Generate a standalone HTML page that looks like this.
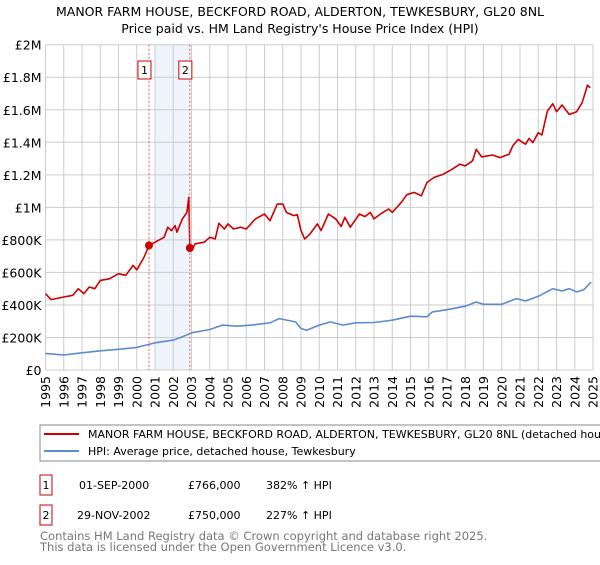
<!DOCTYPE html>
<html><head><meta charset="utf-8"><style>
body{margin:0;background:#fff;font-family:"Liberation Sans","DejaVu Sans",sans-serif;}
svg text{font-family:"DejaVu Sans","Liberation Sans",sans-serif;}
</style></head><body>
<svg id="c" width="600" height="560" viewBox="0 0 600 560" xmlns="http://www.w3.org/2000/svg">
<text x="300" y="16" text-anchor="middle" font-size="12.5" fill="#000">MANOR FARM HOUSE, BECKFORD ROAD, ALDERTON, TEWKESBURY, GL20 8NL</text>
<text x="300" y="33" text-anchor="middle" font-size="12.5" fill="#000">Price paid vs. HM Land Registry's House Price Index (HPI)</text>
<g id="grid"></g><g id="marks"></g><g id="axes"></g>
<rect x="40" y="425" width="570" height="36" fill="#fff" stroke="#888"/>
<line x1="44" y1="434" x2="79" y2="434" stroke="#cc0000" stroke-width="2"/>
<text x="88" y="438" font-size="11">MANOR FARM HOUSE, BECKFORD ROAD, ALDERTON, TEWKESBURY, GL20 8NL (detached house)</text>
<line x1="44" y1="451" x2="79" y2="451" stroke="#5b8bd0" stroke-width="2"/>
<text x="88" y="455" font-size="11">HPI: Average price, detached house, Tewkesbury</text>
<rect x="40" y="475" width="12" height="20" fill="#fff" stroke="#cc0000"/>
<text x="46" y="489" font-size="11" text-anchor="middle">1</text>
<text x="79" y="489" font-size="11">01-SEP-2000</text>
<text x="188" y="489" font-size="11">£766,000</text>
<text x="266" y="489" font-size="11">382% ↑ HPI</text>
<rect x="40" y="505" width="12" height="20" fill="#fff" stroke="#cc0000"/>
<text x="46" y="519" font-size="11" text-anchor="middle">2</text>
<text x="77" y="519" font-size="11">29-NOV-2002</text>
<text x="188" y="519" font-size="11">£750,000</text>
<text x="266" y="519" font-size="11">227% ↑ HPI</text>
<text x="40" y="540" font-size="11.5" fill="#777">Contains HM Land Registry data © Crown copyright and database right 2025.</text>
<text x="40" y="551" font-size="11.5" fill="#777">This data is licensed under the Open Government Licence v3.0.</text>
</svg>
<script>
const yTicks=[0,200,400,600,800,1000,1200,1400,1600,1800,2000];
const yTickLabels=["£0","£200K","£400K","£600K","£800K","£1M","£1.2M","£1.4M","£1.6M","£1.8M","£2M"];
const xYears=[1995,1996,1997,1998,1999,2000,2001,2002,2003,2004,2005,2006,2007,2008,2009,2010,2011,2012,2013,2014,2015,2016,2017,2018,2019,2020,2021,2022,2023,2024,2025];
const redT=[1995,1995.3,1996,1996.5,1996.8,1997.1,1997.4,1997.7,1998,1998.5,1999,1999.4,1999.8,2000,2000.4,2000.67,2001,2001.5,2001.7,2001.9,2002.1,2002.2,2002.5,2002.75,2002.85,2002.91,2003.0,2003.2,2003.7,2004,2004.3,2004.5,2004.8,2005,2005.3,2005.7,2006,2006.5,2007,2007.3,2007.7,2008,2008.2,2008.6,2008.8,2009,2009.2,2009.5,2009.9,2010.1,2010.5,2010.9,2011.2,2011.4,2011.7,2012.2,2012.5,2012.8,2013,2013.4,2013.8,2014,2014.5,2014.8,2015.2,2015.6,2015.9,2016.3,2016.8,2017.3,2017.7,2018,2018.4,2018.6,2018.9,2019.5,2019.9,2020.4,2020.6,2020.9,2021.3,2021.5,2021.7,2022,2022.2,2022.5,2022.8,2023,2023.3,2023.7,2024.1,2024.4,2024.7,2024.85];
const redV=[469,433,449,459,500,469,510,500,551,561,592,582,643,616,694,766,786,816,878,857,888,847,929,969,1061,750,735,776,786,816,806,902,867,898,867,878,867,929,959,918,1020,1020,969,949,955,857,806,837,898,857,959,929,882,939,878,959,943,969,929,963,990,969,1031,1078,1092,1071,1153,1184,1204,1235,1265,1255,1286,1357,1310,1322,1306,1327,1378,1418,1388,1424,1398,1459,1445,1592,1637,1588,1629,1571,1588,1643,1751,1735];
const blueT=[1995,1996,1997,1998,1999,2000,2000.5,2001,2002,2002.5,2003,2004,2004.7,2005.5,2006.3,2007.3,2007.8,2008.7,2009,2009.3,2010,2010.6,2011.3,2012,2013,2014,2015,2015.9,2016.2,2017,2018,2018.6,2019,2020,2020.8,2021.3,2022,2022.8,2023.3,2023.7,2024.1,2024.5,2024.9];
const blueV=[102,92,106,118,127,139,153,167,184,204,229,249,276,269,276,290,316,296,255,245,276,296,276,290,292,306,331,327,357,371,392,418,404,404,439,424,453,500,486,500,480,494,541];
const saleT=[2000.67,2002.91];
const saleV=[766,750];
const saleLabels=["1","2"];
const NS="http://www.w3.org/2000/svg";
const X0=45.5,X1=593,Y0=370,Y1=44.7;
function xs(t){return X0+(t-1995)/(2025-1995)*(X1-X0);}
function ys(v){return Y0-v/2000*(Y0-Y1);}
function mk(tag,attrs,parent){const e=document.createElementNS(NS,tag);for(const k in attrs)e.setAttribute(k,attrs[k]);parent.appendChild(e);return e;}
const grid=document.getElementById('grid'),marks=document.getElementById('marks'),axes=document.getElementById('axes');
const band=mk('rect',{x:xs(2001),y:Y1,width:xs(saleT[1])-xs(2001),height:Y0-Y1,fill:'#eef3fc'},grid);


yTicks.forEach((v,i)=>{
 const l=mk('line',{x1:X0,x2:X1,y1:ys(v),y2:ys(v),stroke:'#ccc'},grid);
 
 
 const t=mk('text',{x:X0-4,y:ys(v)+5,'text-anchor':'end','font-size':'12.5',fill:'#000'},axes);
 t.textContent=yTickLabels[i];
 
 
});
xYears.forEach(yr=>{
 const l=mk('line',{x1:xs(yr),x2:xs(yr),y1:Y1,y2:Y0,stroke:'#ccc'},grid);
 
 
 const t=mk('text',{x:0,y:0,'text-anchor':'end','font-size':'12.5',fill:'#000',transform:`translate(${xs(yr)+4.5},${Y0+6}) rotate(-90)`},axes);
 t.textContent=yr;
 
 
});
function path(T,V,color,name){
 const d=T.map((t,i)=>(i?'L':'M')+xs(t).toFixed(1)+','+ys(V[i]).toFixed(1)).join('');
 const p=mk('path',{d:d,fill:'none',stroke:color,'stroke-width':1.6,'stroke-linejoin':'round'},marks);
 
 
}
path(blueT,blueV,'#5b8bd0','hpi-line');
path(redT,redV,'#cc0000','property-price-line');
saleT.forEach((t,i)=>{
 const l=mk('line',{x1:xs(t),x2:xs(t),y1:Y1,y2:Y0,stroke:'#e55','stroke-dasharray':'2,2'},marks);
 
 
 const c=mk('circle',{cx:xs(t),cy:ys(saleV[i]),r:4,fill:'#cc0000'},marks);
 
 
 const r=mk('rect',{x:xs(t)-11,y:61,width:13,height:18,fill:'#fff',stroke:'#cc0000'},marks);
 
 
 const tx=mk('text',{x:xs(t)-4.5,y:74,'text-anchor':'middle','font-size':'11'},marks);
 tx.textContent=saleLabels[i];
 
 
});
</script>
</body></html>
